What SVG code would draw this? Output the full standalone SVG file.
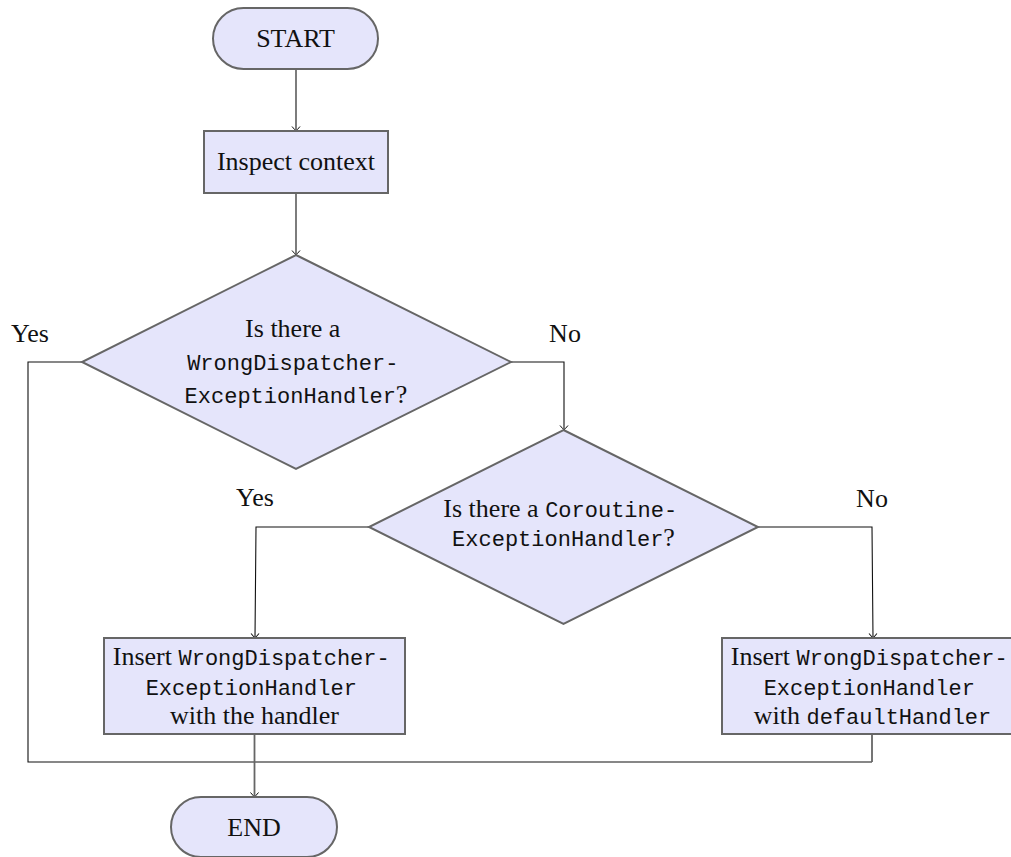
<svg xmlns="http://www.w3.org/2000/svg" width="1011" height="857" viewBox="0 0 1011 857">
  <style>
    .node { fill: #e5e5fb; stroke: #666666; stroke-width: 2; }
    .rm { font-family: "Liberation Serif", "Times New Roman", serif; font-size: 26px; fill: #111; }
    .tt { font-family: "Liberation Mono", "Courier New", monospace; font-size: 22px; }
    .edge { fill: none; stroke: #111; stroke-width: 1.1; }
    .edge-g { fill: none; stroke: #666666; stroke-width: 1.8; }
  </style>
  <defs>
    <marker id="arr" viewBox="-6 -5 8 10" markerWidth="8" markerHeight="10" refX="0" refY="0" orient="auto" markerUnits="userSpaceOnUse">
      <path d="M -4.5 -4 Q -1 -1 0 0 Q -1 1 -4.5 4" fill="none" stroke="#111" stroke-width="1"/>
    </marker>
  </defs>

  <!-- connectors -->
  <g id="connectors">
    <path class="edge" d="M 296 69 L 296 131" marker-end="url(#arr)"/>
    <path class="edge" d="M 296 193 L 296 255" marker-end="url(#arr)"/>
    <path class="edge" d="M 511 362 L 564 362 L 564 430" marker-end="url(#arr)"/>
    <path class="edge" d="M 82 362 L 28 362 L 28 762 L 872 762"/>
    <path class="edge" d="M 369 527 L 256 527 L 255 638" marker-end="url(#arr)"/>
    <path class="edge" d="M 758 527 L 872 527 L 873 638" marker-end="url(#arr)"/>
    <path class="edge-g" d="M 872 734 L 872 762"/>
    <path class="edge-g" d="M 254.5 734 L 254.5 797" marker-end="url(#arr)"/>
  </g>

  <!-- edge labels -->
  <g id="labels" class="rm" text-anchor="middle">
    <text x="30" y="342">Yes</text>
    <text x="565" y="342">No</text>
    <text x="255" y="506">Yes</text>
    <text x="872" y="507">No</text>
  </g>

  <g id="start">
    <rect class="node" x="213" y="8" width="165" height="61" rx="30.5" ry="30.5"/>
    <text class="rm" x="295.5" y="47" text-anchor="middle">START</text>
  </g>

  <g id="inspect">
    <rect class="node" x="204" y="131" width="184" height="62"/>
    <text class="rm" x="296" y="170" text-anchor="middle">Inspect context</text>
  </g>

  <g id="decision-wrong">
    <polygon class="node" points="296,255 511,362 296,469 82,362"/>
    <text class="rm" text-anchor="middle">
      <tspan x="296" y="337">Is there a</tspan>
      <tspan x="296" y="370" class="tt">WrongDispatcher-</tspan>
      <tspan x="296" y="403"><tspan class="tt">ExceptionHandler</tspan>?</tspan>
    </text>
  </g>

  <g id="decision-coroutine">
    <polygon class="node" points="563.5,430 758,527 563.5,624 369,527"/>
    <text class="rm" text-anchor="middle">
      <tspan x="563.5" y="517">Is there a <tspan class="tt">Coroutine-</tspan></tspan>
      <tspan x="563.5" y="546"><tspan class="tt">ExceptionHandler</tspan>?</tspan>
    </text>
  </g>

  <g id="insert-handler">
    <rect class="node" x="104" y="638" width="301" height="96"/>
    <text class="rm" text-anchor="middle">
      <tspan x="254.5" y="665">Insert <tspan class="tt">WrongDispatcher-</tspan></tspan>
      <tspan x="254.5" y="695" class="tt">ExceptionHandler</tspan>
      <tspan x="254.5" y="724">with the handler</tspan>
    </text>
  </g>

  <g id="insert-default">
    <rect class="node" x="722" y="638" width="301" height="96"/>
    <text class="rm" text-anchor="middle">
      <tspan x="872.5" y="665">Insert <tspan class="tt">WrongDispatcher-</tspan></tspan>
      <tspan x="872.5" y="695" class="tt">ExceptionHandler</tspan>
      <tspan x="872.5" y="724">with <tspan class="tt">defaultHandler</tspan></tspan>
    </text>
  </g>

  <g id="end">
    <rect class="node" x="171" y="797" width="166" height="60" rx="30" ry="30"/>
    <text class="rm" x="254" y="836" text-anchor="middle">END</text>
  </g>
</svg>
